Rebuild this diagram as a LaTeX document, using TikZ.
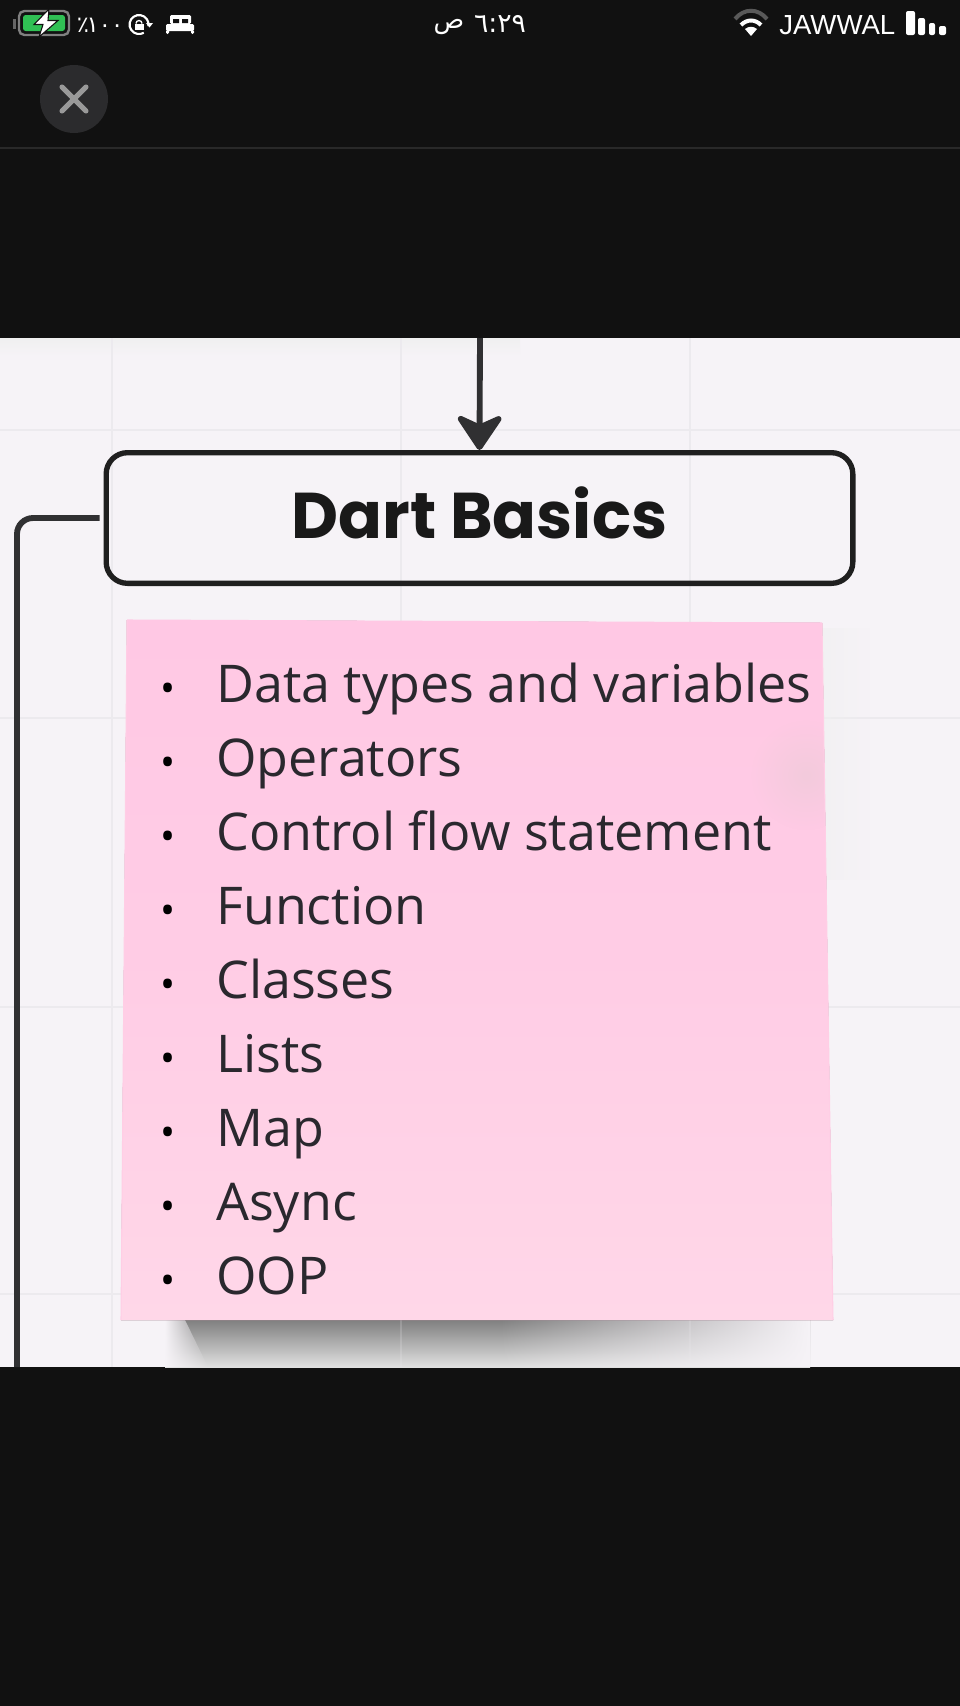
\documentclass[tikz,border=0pt]{standalone}
\usepackage{fontspec}
\setmainfont{Open Sans}
\newfontfamily\titlefont{Poppins}
\newfontfamily\statusfont{Liberation Sans}
\newfontfamily\arabicfont[Script=Arabic]{DejaVu Sans}
\usetikzlibrary{arrows.meta,fadings}
\TeXXeTstate=1
\definecolor{screendark}{RGB}{17,17,17}
\definecolor{closecolor}{RGB}{43,43,45}
\definecolor{canvascolor}{RGB}{246,243,247}
\definecolor{gridcolor}{RGB}{236,234,238}
\definecolor{linkcolor}{RGB}{48,48,50}
\definecolor{inkcolor}{RGB}{42,40,46}
\definecolor{stickytop}{RGB}{255,200,228}
\definecolor{stickybottom}{RGB}{255,215,232}
\definecolor{stickysmudge}{RGB}{243,202,220}
\definecolor{batterygreen}{RGB}{48,192,84}
\tikzfading[name=note fade right,left color=transparent!0,right color=transparent!100]
\tikzfading[name=note fade left,left color=transparent!100,right color=transparent!0]
\tikzfading[name=note smudge,inner color=transparent!0,outer color=transparent!100]
\tikzset{
  chart link/.style={line width=4.4pt,draw=linkcolor},
  chart box/.style={draw=black!88,line width=4pt,rounded corners=16pt,minimum width=560pt,minimum height=98pt,
    text height=40pt,text depth=10pt,font=\titlefont\bfseries\fontsize{48.5}{60}\selectfont,text=black!90},
  note item/.style={anchor=base west,inner sep=0pt,font=\fontsize{39}{45}\selectfont,text=inkcolor},
  note bullet/.style={anchor=base,inner sep=0pt,font=\fontsize{30}{34}\selectfont,text=black},
  status text/.style={inner sep=0pt,text=white}
}

\begin{document}
\begin{tikzpicture}[x=0.75pt,y=-0.75pt]
  \useasboundingbox (0,0) rectangle (960,1706);
  \fill[screendark] (0,0) rectangle (960,1706);
  \draw[white!10!screendark,line width=0.8pt] (0,148)--(960,148);

  % canvas
  \fill[canvascolor] (0,338) rectangle (960,1367);
  \fill[top color=black!6,bottom color=canvascolor,draw=none] (0,338) rectangle (520,356);
  \draw[gridcolor,line width=1.6pt] (112,338)--(112,1367) (401,338)--(401,1367) (690,338)--(690,1367)
    (0,430)--(960,430) (0,718)--(960,718) (0,1007)--(960,1007) (0,1294)--(960,1294);

  % sticky note
  \fill[top color=black!50,bottom color=black!12] (165,1320) rectangle (810,1367);
  \fill[canvascolor,path fading=note fade left] (500,1320) rectangle (810,1367);
  \fill[canvascolor,path fading=note fade right] (165,1320)--(185,1320)--(208,1367)--(165,1367)--cycle;
  \draw[gridcolor,opacity=0.2,line width=1.6pt] (401,1320)--(401,1367) (690,1320)--(690,1367);
  \fill[black!6,path fading=note fade right] (790,628) rectangle (870,880);
  \fill[stickytop] (127,620)--(822,623)--(833,1320)--(121,1320)--cycle;
  \fill[top color=stickytop,bottom color=stickybottom,middle color=stickytop!70!stickybottom]
    (127,620)--(822,623)--(833,1320)--(121,1320)--cycle;
  \begin{scope}
    \clip (127,620)--(822,623)--(833,1320)--(121,1320)--cycle;
    \fill[stickysmudge,path fading=note smudge] (806,775) circle (55);
  \end{scope}
  \draw[stickytop,line width=0.8pt] (127,620)--(822,623);
  \draw[stickytop!60!stickybottom,line width=0.8pt] (822,623)--(833,1320) (127,620)--(121,1320);

  \coordinate (arrowtop) at (480,338);
  \coordinate (leftend) at (17,1367);
  \node[chart box] (basics) at (479.5,518) {Dart Basics};
  \draw[chart link,-{Stealth[length=30pt,width=40pt,inset=9pt,round]}] (arrowtop)--(basics.north);
  \draw[chart link,rounded corners=12pt,shorten <=3pt] (basics.west) -| (leftend);

  \node[note bullet] (dot1) at (168,702) {•};
  \node[note item] (item1) at (216,702) {Data types and variables};
  \node[note bullet] (dot2) at (168,776) {•};
  \node[note item] (item2) at (216,776) {Operators};
  \node[note bullet] (dot3) at (168,850) {•};
  \node[note item] (item3) at (216,850) {Control flow statement};
  \node[note bullet] (dot4) at (168,924) {•};
  \node[note item] (item4) at (216,924) {Function};
  \node[note bullet] (dot5) at (168,998) {•};
  \node[note item] (item5) at (216,998) {Classes};
  \node[note bullet] (dot6) at (168,1072) {•};
  \node[note item] (item6) at (216,1072) {Lists};
  \node[note bullet] (dot7) at (168,1146) {•};
  \node[note item] (item7) at (216,1146) {Map};
  \node[note bullet] (dot8) at (168,1220) {•};
  \node[note item] (item8) at (216,1220) {Async};
  \node[note bullet] (dot9) at (168,1294) {•};
  \node[note item] (item9) at (216,1294) {OOP};

  % status bar
  \fill[black!60] (13,19) rectangle (16,29);
  \draw[black!50,line width=1.8pt,rounded corners=4pt] (19,11) rectangle (69,35);
  \fill[batterygreen,rounded corners=2pt] (23,15) rectangle (65,31);
  \fill[white,draw=screendark,line width=0.8pt] (49,9)--(34,24.5)--(43,24.5)--(39,37)--(58,20.5)--(48,20.5)--cycle;
  \node[status text,font=\arabicfont\fontsize{17}{20}\selectfont] (percentsign) at (83,25) {٪};
  \node[status text,font=\arabicfont\fontsize{17}{20}\selectfont] (percent) at (105,25) {١٠٠};
  \draw[white,line width=1.6pt] (148.4,26.2) arc (10:-300:9.5);
  \fill[white] (146,23)--(153,23)--(149.5,27.5)--cycle;
  \fill[white] (134.5,23.5) rectangle (143.5,30);
  \draw[white,line width=1pt] (136,23.5) arc (180:360:3);
  \fill[white,rounded corners=1pt] (170,15) rectangle (191,24);
  \fill[screendark] (173,19) rectangle (179,23) (182,19) rectangle (188,23);
  \fill[white,rounded corners=1pt] (166,24) rectangle (194,31) (166,30) rectangle (169,34) (191,30) rectangle (194,34);
  \node[status text,font=\arabicfont\fontsize{19}{22}\selectfont] (meridiem) at (449,27) {\beginR ص\endR};
  \node[status text,font=\arabicfont\fontsize{20}{24}\selectfont] (clock) at (500,24) {\beginL ٦:٢٩\endL};
  \draw[black!65,line width=3pt] (735,19) .. controls (744,8) and (758,8) .. (767,19);
  \draw[white,line width=3pt] (741,25) .. controls (747,19) and (755,19) .. (761,25);
  \fill[white] (751,36)--(745,29) .. controls (749,26) and (753,26) .. (757,29)--cycle;
  \node[status text,anchor=base west,font=\statusfont\fontsize{20.7}{24}\selectfont] (carrier) at (779,34) {JAWWAL};
  \fill[white,rounded corners=1.5pt] (906,11) rectangle (915,35) (918,18) rectangle (925,35)
    (929,23) rectangle (935,35) (939,26) rectangle (946,35);

  % close button
  \node[circle,fill=closecolor,minimum size=51pt,inner sep=0pt] (closebtn) at (74,99) {};
  \draw[black!40,line width=3.8pt,line cap=round] (62,87)--(86,111) (86,87)--(62,111);
\end{tikzpicture}
\end{document}
